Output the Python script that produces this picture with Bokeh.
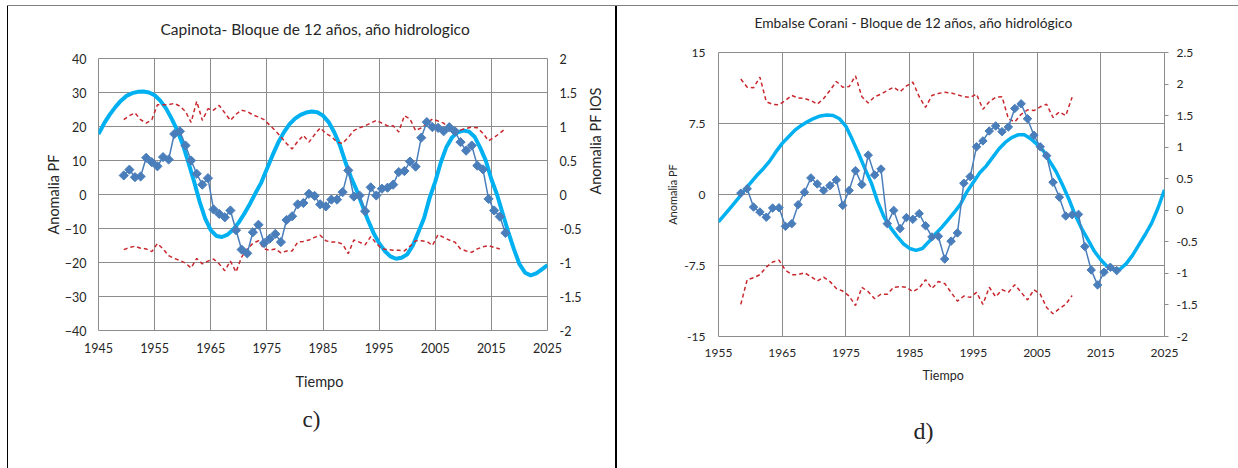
import numpy as np
from bokeh.plotting import figure
from bokeh.models import Range1d, LinearAxis, FixedTicker, Title, Div, Spacer
from bokeh.layouts import row, column
from bokeh.embed import file_html
from bokeh.resources import INLINE

# ---------------- Panel c) Capinota ----------------
c_years = list(range(1949, 2018))
c_pf = [5.6, 7.3, 5.1, 5.3, 10.8, 9.5, 8.3, 11.0, 10.3, 17.8,
        18.6, 14.4, 10.0, 6.1, 2.9, 4.8, -4.4, -5.7, -6.7, -4.7,
        -10.5, -16.2, -17.3, -11.1, -8.9, -14.3, -13.0, -11.6, -14.0, -7.5,
        -6.4, -2.9, -2.5, 0.2, -0.4, -2.9, -3.5, -1.5, -1.5, 0.7,
        7.1, -0.6, -0.3, -4.9, 2.1, -0.3, 1.7, 2.0, 2.9, 6.6,
        6.9, 9.7, 8.2, 16.7, 21.3, 19.8, 19.6, 18.6, 19.8, 18.6,
        15.4, 12.9, 14.4, 8.5, 7.4, -1.3, -4.7, -6.5, -11.3]
c_ios_hi = [1.10, 1.16, 1.20, 1.10, 1.05, 1.10, 1.32, 1.32, 1.32, 1.34,
            1.30, 1.22, 1.06, 1.37, 1.09, 1.26, 1.24, 1.31, 1.20, 1.09,
            1.18, 1.24, 1.22, 1.17, 1.14, 1.10, 1.02, 0.94, 0.85, 0.75,
            0.67, 0.78, 0.87, 0.77, 0.88, 0.98, 0.90, 0.85, 0.77, 0.75,
            0.84, 0.94, 0.98, 1.01, 1.05, 1.09, 1.05, 1.01, 1.01, 0.92,
            1.16, 1.11, 0.94, 0.98, 1.05, 1.11, 1.08, 1.05, 0.97, 0.96,
            0.95, 0.97, 0.99, 0.98, 0.90, 0.79, 0.84, 0.90, 0.97]
c_lo_years = list(range(1949, 2017))
c_ios_lo = [-0.81, -0.78, -0.76, -0.79, -0.80, -0.84, -0.72, -0.80, -0.90, -0.94,
            -0.97, -1.01, -1.08, -0.94, -1.02, -0.98, -0.95, -1.02, -1.12, -0.98,
            -1.14, -0.92, -0.80, -0.72, -0.68, -0.80, -0.82, -0.80, -0.86, -0.83,
            -0.83, -0.70, -0.69, -0.67, -0.63, -0.60, -0.68, -0.70, -0.70, -0.73,
            -0.87, -0.67, -0.70, -0.74, -0.62, -0.72, -0.80, -0.81, -0.82, -0.82,
            -0.83, -0.76, -0.68, -0.68, -0.69, -0.75, -0.59, -0.63, -0.67, -0.70,
            -0.80, -0.83, -0.85, -0.80, -0.77, -0.75, -0.78, -0.80]
c_fit_years = list(range(1945, 2026))
c_fit = [17.8, 20.9, 23.5, 25.7, 27.6, 29.0, 29.8, 30.2, 30.3, 30.0,
         29.2, 27.6, 25.4, 22.4, 19.0, 14.8, 9.5, 4.0, -2.0, -7.0,
         -10.5, -12.2, -12.5, -11.8, -10.3, -8.2, -5.6, -2.7, 0.5, 3.5,
         7.5, 11.5, 15.2, 18.2, 20.6, 22.3, 23.4, 24.1, 24.4, 24.2,
         23.2, 21.3, 18.3, 14.5, 9.5, 5.0, 1.2, -3.2, -7.5, -11.3,
         -14.3, -16.6, -18.2, -18.9, -18.6, -17.6, -15.0, -11.0, -7.0, -1.0,
         3.8, 9.5, 14.0, 16.8, 18.3, 18.8, 18.5, 17.0, 13.8, 10.0,
         4.5, 0.0, -5.5, -11.0, -16.0, -20.5, -23.0, -23.8, -23.2, -22.0, -20.8]
c_xticks = [1945, 1955, 1965, 1975, 1985, 1995, 2005, 2015, 2025]
c_yticks = [-40, -30, -20, -10, 0, 10, 20, 30, 40]
c_y2ticks = [-2, -1.5, -1, -0.5, 0, 0.5, 1, 1.5, 2]

# ---------------- Panel d) Corani ----------------
d_years = list(range(1958, 2018))
d_pf = [0.14, 0.6, -1.33, -1.85, -2.4, -1.43, -1.4, -3.36, -3.08, -1.08,
        0.24, 1.75, 1.12, 0.42, 0.94, 1.54, -1.15, 0.42, 2.52, 1.05,
        4.16, 2.06, 2.69, -3.08, -1.68, -3.6, -2.44, -2.62, -2.02, -3.3,
        -4.48, -4.41, -6.82, -4.93, -4.06, 1.19, 1.89, 5.04, 5.66, 6.71,
        7.24, 6.64, 7.13, 9.09, 9.58, 8.0, 6.26, 5.04, 4.1, 1.29,
        -0.28, -2.27, -2.13, -2.1, -5.5, -7.97, -9.55, -8.21, -7.69, -8.04]
d_ios_years = list(range(1958, 2011))
d_ios_hi = [2.08, 1.95, 1.94, 2.11, 1.72, 1.68, 1.67, 1.74, 1.82, 1.78,
            1.77, 1.74, 1.68, 1.77, 1.90, 2.04, 1.95, 1.96, 2.13, 1.80,
            1.70, 1.80, 1.84, 1.90, 1.95, 1.88, 1.97, 2.03, 1.80, 1.63,
            1.82, 1.85, 1.87, 1.86, 1.83, 1.80, 1.79, 1.84, 1.60, 1.72,
            1.79, 1.80, 1.45, 1.40, 1.52, 1.59, 1.58, 1.64, 1.68, 1.47,
            1.56, 1.50, 1.79]
d_ios_lo = [-1.49, -1.10, -1.07, -1.02, -0.90, -0.82, -0.79, -0.95, -1.02, -1.02,
            -0.99, -1.05, -1.12, -1.06, -1.13, -1.24, -1.28, -1.36, -1.51, -1.22,
            -1.29, -1.40, -1.33, -1.33, -1.22, -1.21, -1.22, -1.29, -1.23, -1.10,
            -1.24, -1.13, -1.16, -1.30, -1.44, -1.36, -1.38, -1.30, -1.49, -1.22,
            -1.37, -1.26, -1.30, -1.18, -1.30, -1.42, -1.26, -1.33, -1.54, -1.64,
            -1.56, -1.49, -1.35]
d_fit_years = list(range(1955, 2026))
d_fit = [-2.9, -2.1, -1.3, -0.5, 0.4, 1.2, 2.0, 2.7, 3.5, 4.5,
         5.4, 6.1, 6.8, 7.3, 7.7, 8.05, 8.3, 8.4, 8.35, 8.0,
         7.2, 5.8, 4.3, 2.7, 1.2, -0.8, -2.4, -3.5, -4.4, -5.2,
         -5.7, -5.9, -5.7, -5.0, -4.2, -3.5, -2.7, -1.9, -1.0, 0.3,
         1.3, 2.3, 3.0, 3.9, 4.8, 5.5, 6.0, 6.3, 6.3, 5.9,
         5.3, 4.6, 3.5, 2.4, 1.0, -0.5, -2.2, -3.6, -4.8, -6.0,
         -6.9, -7.6, -7.9, -7.9, -7.3, -6.4, -5.3, -4.2, -3.0, -1.4, 0.5]
d_xticks = [1955, 1965, 1975, 1985, 1995, 2005, 2015, 2025]
d_yticks = [-15, -7.5, 0, 7.5, 15]
d_y2ticks = [-2, -1.5, -1, -0.5, 0, 0.5, 1, 1.5, 2, 2.5]

BLUE = "#4a7ebb"
CYAN = "#00b0f0"
RED = "#c8282e"
GRID = "#8c8c8c"
FONT = "Lato"
SERIF = "Liberation Serif"
TXT = "#262626"


def fmt(v):
    return "%g" % v


def style_axis(ax, size, standoff):
    ax.axis_line_color = None
    ax.major_tick_line_color = None
    ax.minor_tick_line_color = None
    ax.major_tick_out = 0
    ax.major_tick_in = 0
    ax.minor_tick_out = 0
    ax.minor_tick_in = 0
    ax.major_label_text_font = FONT
    ax.major_label_text_font_size = size
    ax.major_label_text_color = TXT
    ax.major_label_standoff = standoff
    ax.axis_label_text_font = FONT
    ax.axis_label_text_font_style = "normal"
    ax.axis_label_text_color = TXT


def title(p, side, text, size, offset, standoff, font=FONT):
    p.add_layout(Title(text=text, align="left", offset=offset, standoff=standoff,
                       vertical_align="bottom", text_font=font, text_font_size=size,
                       text_font_style="normal", text_color=TXT), side)


def frame_style(p):
    for g in (p.xgrid[0], p.ygrid[0]):
        g.grid_line_color = GRID
        g.grid_line_width = 1
    p.outline_line_color = GRID
    p.outline_line_alpha = 1
    p.outline_line_width = 1


# ============ left figure (c) ============
p1 = figure(width=607, height=448, x_range=Range1d(1945, 2025), y_range=Range1d(-40, 40),
            output_backend="svg", toolbar_location=None,
            min_border_left=90, min_border_right=62, min_border_top=44, min_border_bottom=132)
p1.extra_y_ranges = {"ios": Range1d(-2, 2)}
p1.xaxis.ticker = FixedTicker(ticks=c_xticks)
p1.yaxis.ticker = FixedTicker(ticks=c_yticks)
style_axis(p1.xaxis[0], "12.5px", 12)
style_axis(p1.yaxis[0], "12.5px", 12)
p1.yaxis.axis_label = "Anomalia PF"
p1.yaxis.axis_label_text_font_size = "14.5px"
p1.yaxis.axis_label_standoff = 0
ax2 = LinearAxis(y_range_name="ios", ticker=FixedTicker(ticks=c_y2ticks),
                 major_label_overrides={v: fmt(v) for v in c_y2ticks})
style_axis(ax2, "12.5px", 12)
ax2.axis_label = "Anomalia PF  IOS"
ax2.axis_label_text_font_size = "14.5px"
ax2.axis_label_text_line_height = 1.0
ax2.axis_label_standoff = 11
ax2.axis_label_orientation = np.pi / 2
p1.add_layout(ax2, "right")
frame_style(p1)

cx = [y + 0.5 for y in c_years]
cxl = [y + 0.5 for y in c_lo_years]
p1.line(c_fit_years, c_fit, line_color=CYAN, line_width=4)
p1.line(cx, c_ios_hi, line_color=RED, line_width=1.5, line_dash="4 3", y_range_name="ios")
p1.line(cxl, c_ios_lo, line_color=RED, line_width=1.5, line_dash="4 3", y_range_name="ios")
p1.line(cx, c_pf, line_color=BLUE, line_width=1.5)
p1.scatter(cx, c_pf, marker="square", size=6.5, angle=np.pi / 4,
           fill_color=BLUE, line_color=BLUE)

title(p1, "above", "Capinota- Bloque de 12 años, año hidrologico\n", "15.5px", 62, 6)
title(p1, "below", "Tiempo", "14.5px", 197, 30)
title(p1, "below", "c)", "23px", 204, 0, font=SERIF)

# ============ right figure (d) ============
p2 = figure(width=621, height=462, x_range=Range1d(1955, 2025), y_range=Range1d(-15, 15),
            output_backend="svg", toolbar_location=None,
            min_border_left=101, min_border_right=74, min_border_top=44, min_border_bottom=132)
p2.extra_y_ranges = {"ios": Range1d(-2, 2.5)}
p2.xaxis.ticker = FixedTicker(ticks=d_xticks)
p2.yaxis.ticker = FixedTicker(ticks=d_yticks)
p2.yaxis.major_label_overrides = {v: fmt(v) for v in d_yticks}
style_axis(p2.xaxis[0], "12px", 12)
style_axis(p2.yaxis[0], "12px", 13)
p2.yaxis.axis_label = "Anomalia PF"
p2.yaxis.axis_label_text_font_size = "11px"
p2.yaxis.axis_label_standoff = 2
ax3 = LinearAxis(y_range_name="ios", ticker=FixedTicker(ticks=d_y2ticks),
                 major_label_overrides={v: fmt(v) for v in d_y2ticks})
style_axis(ax3, "12px", 8)
ax3.major_tick_line_color = GRID
ax3.major_tick_out = 4
p2.add_layout(ax3, "right")
frame_style(p2)

dx = [y + 0.5 for y in d_years]
dxi = [y + 0.5 for y in d_ios_years]
p2.line(d_fit_years, d_fit, line_color=CYAN, line_width=3.5)
p2.line(dxi, d_ios_hi, line_color=RED, line_width=1.5, line_dash="4 3", y_range_name="ios")
p2.line(dxi, d_ios_lo, line_color=RED, line_width=1.5, line_dash="4 3", y_range_name="ios")
p2.line(dx, d_pf, line_color=BLUE, line_width=1.5)
p2.scatter(dx, d_pf, marker="square", size=6, angle=np.pi / 4,
           fill_color=BLUE, line_color=BLUE)

title(p2, "above", "Embalse Corani - Bloque de 12 años, año hidrológico\n", "13.8px", 36, 10)
title(p2, "below", "Tiempo", "12.5px", 204, 13)
title(p2, "below", "\nd)", "24px", 195, 0, font=SERIF)

# ============ page with table borders ============
top_line = row(Spacer(width=7, height=1, margin=0),
               Div(width=1231, height=1, margin=0, styles={"background-color": "#7f7f7f"}),
               spacing=0)
left_col = column(Spacer(width=607, height=8, margin=0), p1, spacing=0)
body = row(Spacer(width=7, height=462, margin=0),
           Div(width=1, height=462, margin=0, styles={"background-color": "black"}),
           left_col,
           Div(width=2, height=462, margin=0, styles={"background-color": "black"}),
           p2, spacing=0)
layout = column(Spacer(width=1238, height=5, margin=0), top_line, body, spacing=0)

open("out.html", "w").write(file_html(layout, INLINE))
